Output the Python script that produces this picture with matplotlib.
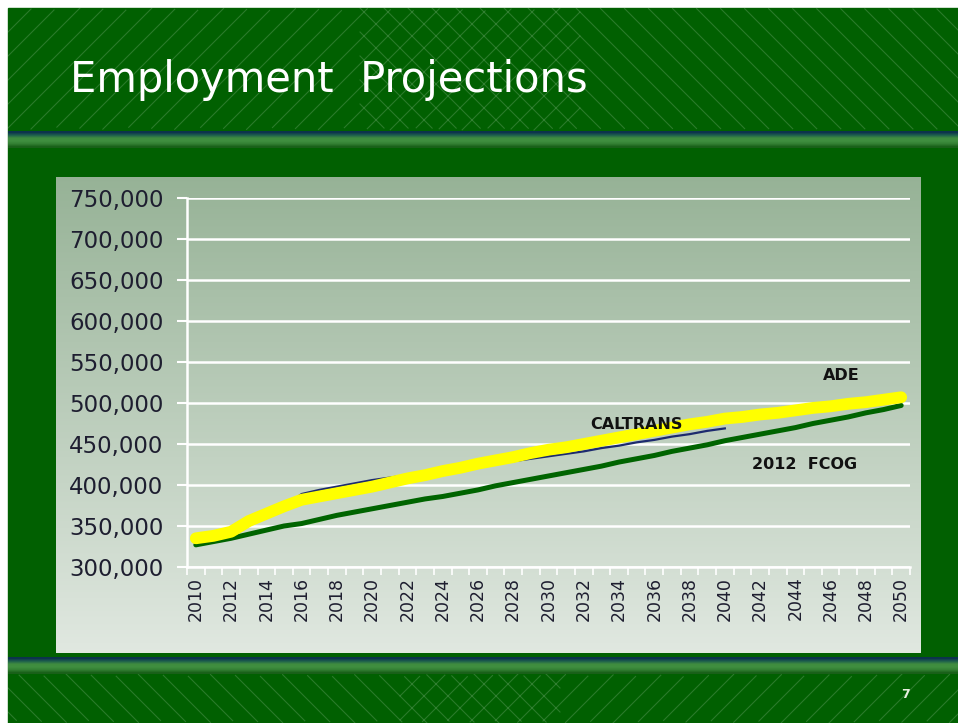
import numpy as np
import matplotlib
matplotlib.use("Agg")
import matplotlib.pyplot as plt
from matplotlib.ticker import FuncFormatter, FixedLocator

# ---------------- data ----------------
years = list(range(2010, 2051))
ade = [335, 338, 343, 356, 365, 374, 382, 386, 390, 394,
       398, 403, 408, 412, 417, 421, 426, 430, 434, 439,
       443, 446, 450, 454, 458, 462, 466, 470, 474, 477,
       481, 483, 486, 488, 491, 494, 496, 499, 501, 504, 507]
fcog = [327, 331, 335, 340, 345, 350, 353, 358, 363, 367,
        371, 375, 379, 383, 386, 390, 394, 399, 403, 407,
        411, 415, 419, 423, 428, 432, 436, 441, 445, 449,
        454, 458, 462, 466, 470, 475, 479, 483, 488, 492, 497]
caltrans_years = list(range(2010, 2041))
caltrans = [335, 338, 343, 355, 364, 373, 389, 394, 398, 402,
            406, 409, 412, 415, 418, 421, 424, 427, 429, 432,
            435, 438, 441, 445, 448, 452, 455, 459, 462, 466, 469]
ade_v = [v * 1000 for v in ade]
fcog_v = [v * 1000 for v in fcog]
caltrans_v = [v * 1000 for v in caltrans]
yticks = list(range(300000, 750001, 50000))
xlabels = list(range(2010, 2051, 2))

W, H = 958, 723
fig = plt.figure(figsize=(W / 100, H / 100), dpi=100)
fig.patch.set_facecolor("white")

bg = fig.add_axes([0, 0, 1, 1])
bg.set_xlim(0, W)
bg.set_ylim(H, 0)
bg.axis("off")

GREEN = "#016001"
bg.add_patch(plt.Rectangle((8, 8), W - 8, H - 8, color=GREEN, zorder=0))

# diagonal decorative lines
def diag(x0, x1, y0, y1, direction):
    step = 24
    for c in np.arange(-800, 2000, step):
        xs = np.linspace(x0, x1, 200)
        ys = (c - xs) if direction == "/" else (xs - c)
        m = (ys >= y0) & (ys <= y1)
        if m.sum() > 1:
            bg.plot(xs[m], ys[m], color=(1, 1, 1, 0.17), lw=0.8, zorder=1)

diag(8, 580, 8, 130, "/")
diag(360, W, 8, 130, "\\")
diag(8, 560, 674, H, "\\")
diag(400, W, 674, H, "/")

# gradient bars
bar_cols = np.array([[0.05, 0.20, 0.30], [0.12, 0.38, 0.30], [0.25, 0.55, 0.25],
                     [0.25, 0.56, 0.25], [0.20, 0.50, 0.20], [0.10, 0.38, 0.10]])
bar_img = bar_cols[:, None, :]
for (ya, yb) in [(131, 148), (657, 674)]:
    bg.imshow(bar_img, extent=(8, W, yb, ya), aspect="auto", interpolation="bilinear", zorder=2)

# panel gradient
top = np.array([0.59, 0.70, 0.59])
bot = np.array([0.88, 0.91, 0.88])
t = np.linspace(0, 1, 256)[:, None]
panel = (top * (1 - t) + bot * t)[:, None, :]
bg.imshow(panel, extent=(56, 921, 653, 177), aspect="auto", interpolation="bilinear", zorder=2)
bg.set_xlim(0, W)
bg.set_ylim(H, 0)

# title and page number
bg.text(70, 80, "Employment  Projections", color="white", fontsize=30,
        fontfamily="DejaVu Sans", va="center", ha="left", zorder=5)
bg.text(906, 694, "7", color="#e8f0e0", fontsize=9, fontweight="bold",
        va="center", ha="center", zorder=5)

# ---------------- chart ----------------
L, R, T, B = 187, 910, 198, 567
ax = fig.add_axes([L / W, 1 - B / H, (R - L) / W, (B - T) / H])
ax.set_facecolor("none")
ax.set_xlim(2009.5, 2050.5)
ax.set_ylim(300000, 750000)

for s in ["top", "right"]:
    ax.spines[s].set_visible(False)
ax.spines["left"].set_color("white")
ax.spines["left"].set_linewidth(1.8)
ax.spines["bottom"].set_color("white")
ax.spines["bottom"].set_linewidth(1.8)

ax.set_yticks(yticks)
ax.yaxis.set_major_formatter(FuncFormatter(lambda v, p: f"{int(v):,}"))
ax.grid(axis="y", color="white", lw=1.8)
ax.tick_params(axis="y", colors="white", length=7, width=1.5, labelsize=16.5,
               labelcolor="#1e1e30", pad=10)

ax.xaxis.set_major_locator(FixedLocator(xlabels))
ax.set_xticklabels([str(y) for y in xlabels], rotation=90)
ax.xaxis.set_minor_locator(FixedLocator([y - 0.5 for y in range(2010, 2052)]))
ax.tick_params(axis="x", which="major", length=0, labelsize=12.5,
               labelcolor="#1e1e30", pad=7)
ax.tick_params(axis="x", which="minor", length=6, width=1.2, colors="white")

ax.plot(years, fcog_v, color="#006400", lw=3.6, solid_capstyle="round", zorder=3)
ax.plot(caltrans_years, caltrans_v, color="#1c2a6e", lw=1.6, zorder=3)
ax.plot(years, ade_v, color="#ffff00", lw=8.5, solid_capstyle="round", zorder=4)

ax.text(2035.0, 474000, "CALTRANS", fontsize=11.5, fontweight="bold", color="#111111",
        ha="center", va="center", zorder=6)
ax.text(2046.6, 533000, "ADE", fontsize=11.5, fontweight="bold", color="#111111",
        ha="center", va="center")
ax.text(2044.5, 425500, "2012  FCOG", fontsize=11.5, fontweight="bold", color="#111111",
        ha="center", va="center")

fig.savefig("out.png", dpi=100, facecolor="white")
